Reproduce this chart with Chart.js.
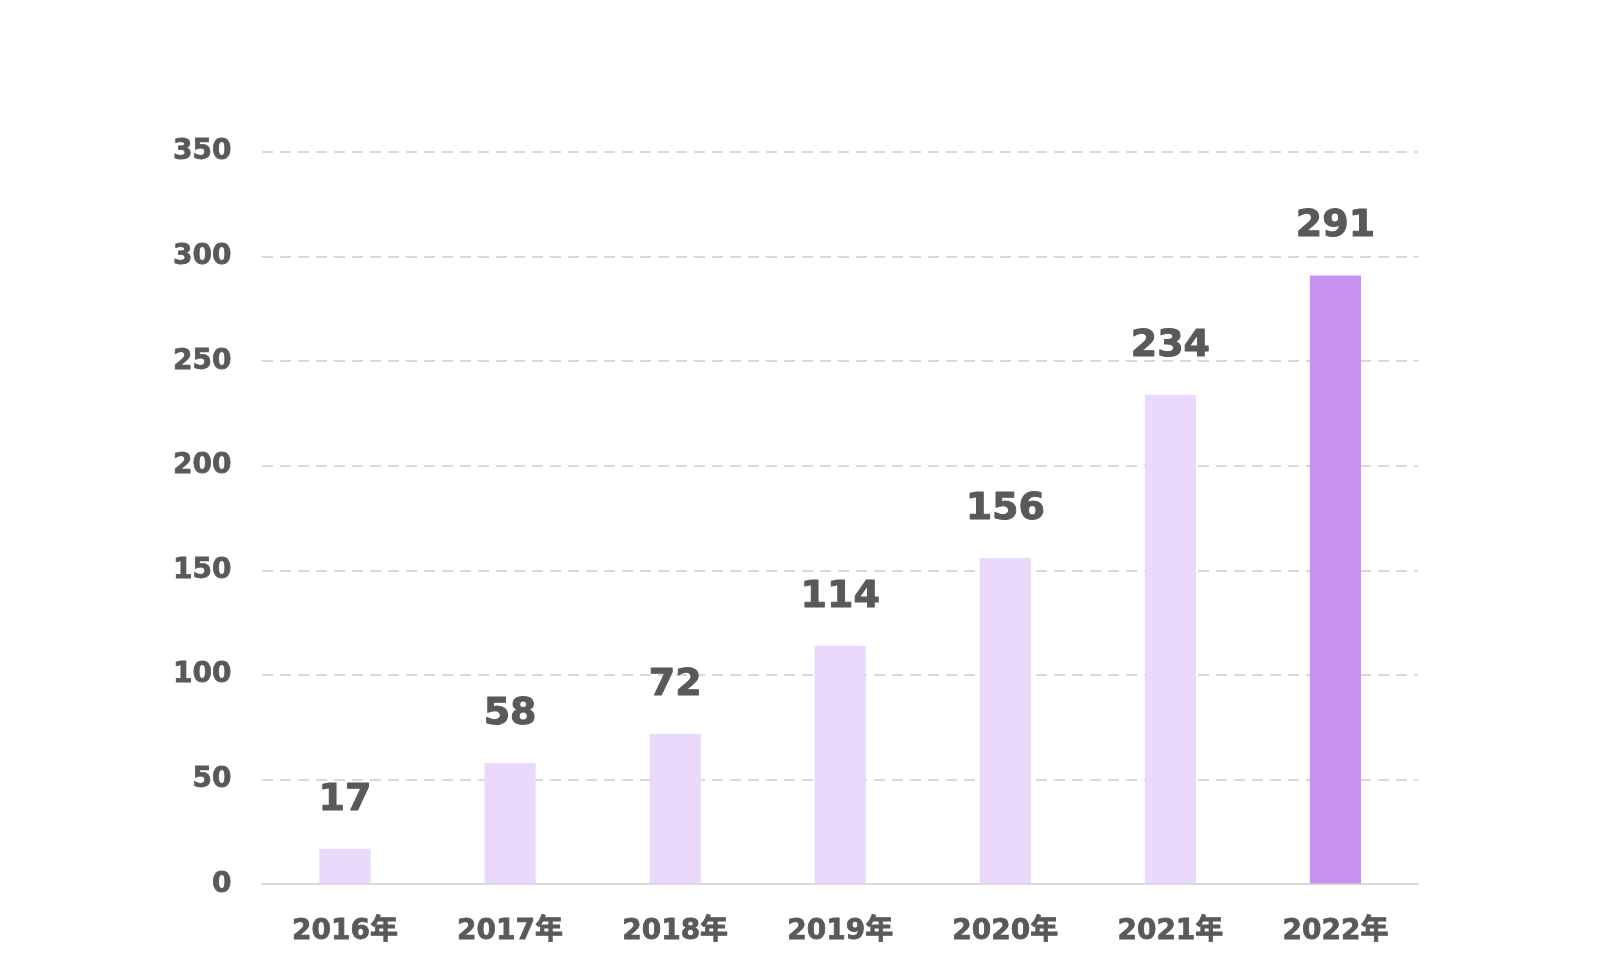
<!DOCTYPE html>
<html>
<head>
<meta charset="utf-8">
<script src="https://cdn.jsdelivr.net/npm/chart.js@4"></script>
<style>
html,body{margin:0;padding:0;background:#fff;}
#wrap{width:1600px;height:972px;}
</style>
</head>
<body>
<div id="wrap"><canvas id="c" width="1600" height="972"></canvas></div>
<script>
const categories = ['2016年','2017年','2018年','2019年','2020年','2021年','2022年'];
const values = [17, 58, 72, 114, 156, 234, 291];
const barColors = ['#EAD9FA','#EAD9FA','#EAD9FA','#EAD9FA','#EAD9FA','#EAD9FA','#C992EF'];
const yTicks = [0, 50, 100, 150, 200, 250, 300, 350];

const FONT = "'DejaVu Sans', Verdana, 'Noto Sans CJK JP', sans-serif";
const TEXT = '#595959';

const valueLabels = {
  id: 'valueLabels',
  afterDatasetsDraw(chart) {
    const ctx = chart.ctx;
    const meta = chart.getDatasetMeta(0);
    ctx.save();
    ctx.font = 'bold 38px ' + FONT;
    ctx.fillStyle = TEXT;
    ctx.strokeStyle = TEXT;
    ctx.lineWidth = 1;
    ctx.lineJoin = 'round';
    ctx.textAlign = 'center';
    ctx.textBaseline = 'middle';
    meta.data.forEach((bar, i) => {
      ctx.fillText(String(values[i]), bar.x, bar.y - 49);
      ctx.strokeText(String(values[i]), bar.x, bar.y - 49);
    });
    ctx.restore();
  }
};

new Chart(document.getElementById('c'), {
  type: 'bar',
  data: {
    labels: categories,
    datasets: [{
      data: values,
      backgroundColor: barColors,
      borderWidth: 0,
      barPercentage: 0.31,
      categoryPercentage: 1.0
    }]
  },
  options: {
    responsive: false,
    animation: false,
    devicePixelRatio: 1,
    layout: { padding: { left: 142, right: 182, top: 152, bottom: -8 } },
    plugins: { legend: { display: false }, tooltip: { enabled: false } },
    scales: {
      x: {
        grid: { display: false, drawTicks: false },
        border: { display: true, color: '#D9D9D9', width: 2 },
        ticks: { color: TEXT, textStrokeColor: TEXT, textStrokeWidth: 0.8, font: { family: FONT, size: 28, weight: 'bold' }, padding: 31 }
      },
      y: {
        min: 0, max: 350,
        afterBuildTicks(scale) { scale.ticks = yTicks.map(v => ({ value: v })); },
        grid: {
          color: (c) => c.tick && c.tick.value === 0 ? 'rgba(0,0,0,0)' : '#D9D9D9',
          lineWidth: 2,
          drawTicks: false
        },
        border: { display: false, dash: [11, 7] },
        ticks: { color: TEXT, textStrokeColor: TEXT, textStrokeWidth: 0.8, font: { family: FONT, size: 28, weight: 'bold' }, padding: 31 }
      }
    }
  },
  plugins: [valueLabels]
});
</script>
</body>
</html>
